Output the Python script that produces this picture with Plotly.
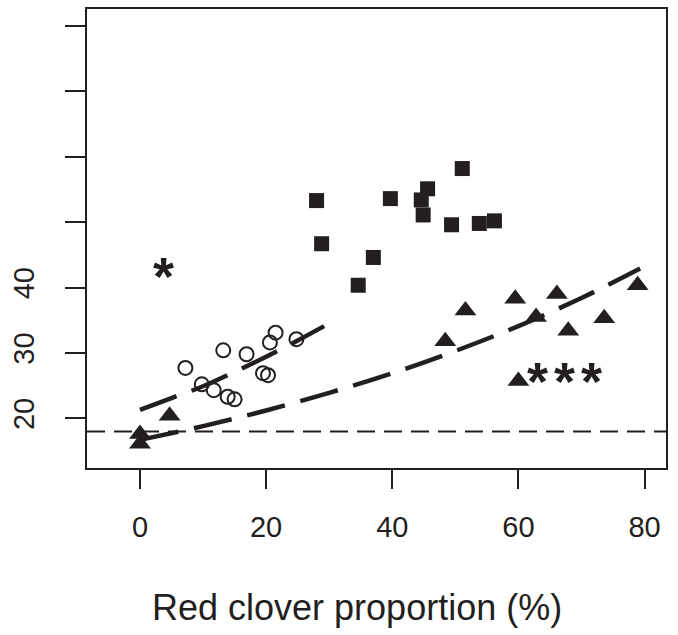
import plotly.graph_objects as go

# ---- data ----
circle_x = [7.2, 9.8, 11.7, 13.2, 13.9, 15.0, 16.9, 19.5, 20.3, 20.6, 21.5, 24.8]
circle_y = [27.7, 25.2, 24.3, 30.4, 23.3, 22.9, 29.8, 26.9, 26.6, 31.6, 33.1, 32.1]

square_x = [28.0, 28.8, 34.6, 37.0, 39.7, 44.6, 45.6, 44.9, 51.1, 49.4, 53.8, 56.2]
square_y = [53.3, 46.7, 40.35, 44.6, 53.6, 53.4, 55.1, 51.1, 58.2, 49.6, 49.8, 50.2]

triangle_x = [0.0, 0.0, 4.7, 48.4, 51.6, 59.5, 62.8, 66.1, 67.9, 73.6, 78.9, 60.0]
triangle_y = [17.6, 16.1, 20.4, 31.8, 36.5, 38.3, 35.5, 39.0, 33.4, 35.3, 40.35, 25.7]

circle_fit_x = [0, 5, 10, 15, 20, 25, 29.2]
circle_fit_y = [21.3, 23.1, 24.9, 27.1, 29.4, 31.9, 34.1]

triangle_fit_x = [0, 10, 20, 30, 40, 50, 60, 70, 79.3]
triangle_fit_y = [16.7, 18.8, 21.2, 23.9, 26.9, 30.3, 34.1, 38.4, 42.9]

reference_y = 18.0

x_ticks = [0, 20, 40, 60, 80]
y_ticks = [20, 30, 40, 50, 60, 70, 80]
y_tick_text = ["20", "30", "40", "", "", "", ""]

x_title = "Red clover proportion (%)"

INK = "#231f20"
FONT = "Liberation Sans, Arial, Helvetica, sans-serif"

fig = go.Figure()

fig.add_trace(go.Scatter(
    x=circle_fit_x, y=circle_fit_y, mode="lines", line_shape="spline",
    line=dict(color=INK, width=4.5, dash="39px,16px"), hoverinfo="skip"))
fig.add_trace(go.Scatter(
    x=triangle_fit_x, y=triangle_fit_y, mode="lines", line_shape="spline",
    line=dict(color=INK, width=4.5, dash="39px,16px"), hoverinfo="skip"))

fig.add_trace(go.Scatter(
    x=circle_x, y=circle_y, mode="markers",
    marker=dict(symbol="circle-open", size=14, color=INK, line=dict(width=2, color=INK))))
fig.add_trace(go.Scatter(
    x=square_x, y=square_y, mode="markers",
    marker=dict(symbol="square", size=15, color=INK, line=dict(width=0))))
fig.add_trace(go.Scatter(
    x=triangle_x, y=triangle_y, mode="markers",
    marker=dict(symbol="triangle-up", size=19, color=INK, line=dict(width=0))))

fig.add_shape(type="line", xref="paper", yref="y", x0=0, x1=1,
              y0=reference_y, y1=reference_y,
              line=dict(color=INK, width=2, dash="18px,9px"))

star_font = dict(family=FONT, size=54, color=INK)
annotations = [
    dict(x=3.8, y=42.95, text="<b>*</b>", showarrow=False, font=star_font,
         xref="x", yref="y", xanchor="center", yanchor="middle", yshift=-8),
]
for sx in [63.0, 67.3, 71.6]:
    annotations.append(dict(x=sx, y=27.0, text="<b>*</b>", showarrow=False, font=star_font,
                            xref="x", yref="y", xanchor="center", yanchor="middle", yshift=-8))
annotations.append(dict(x=0.4655, y=-0.303, xref="paper", yref="paper", text=x_title,
                        showarrow=False, font=dict(family=FONT, size=36, color=INK),
                        xanchor="center", yanchor="middle"))

fig.update_layout(
    width=678, height=635,
    margin=dict(l=87, r=12, t=9, b=167, autoexpand=False),
    paper_bgcolor="white", plot_bgcolor="white",
    showlegend=False,
    annotations=annotations,
    font=dict(family=FONT, color=INK),
)
fig.update_xaxes(
    range=[-8.4, 83.4], tickvals=x_ticks, ticktext=[str(v) for v in x_ticks],
    showgrid=False, zeroline=False, automargin=False,
    showline=True, linecolor=INK, linewidth=2, mirror=True,
    ticks="outside", ticklen=19, tickwidth=2, tickcolor=INK,
    tickfont=dict(family=FONT, size=29, color=INK), ticklabelstandoff=13,
)
fig.update_yaxes(
    range=[12.4, 82.6], tickvals=y_ticks, ticktext=y_tick_text,
    showgrid=False, zeroline=False, automargin=False,
    showline=True, linecolor=INK, linewidth=2, mirror=True,
    ticks="outside", ticklen=20, tickwidth=2, tickcolor=INK,
    tickangle=-90,
    tickfont=dict(family=FONT, size=29, color=INK), ticklabelstandoff=19,
)

fig.write_html("out.html",
               config={"displayModeBar": False},
               post_script="document.body.style.margin='0';document.body.style.padding='0';")
